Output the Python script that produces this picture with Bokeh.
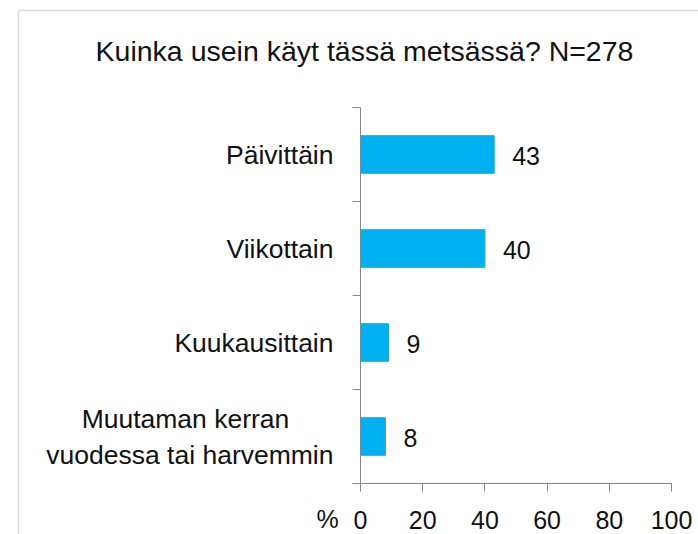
from bokeh.plotting import figure
from bokeh.models import (ColumnDataSource, Range1d, FixedTicker, LinearAxis,
                          LabelSet, Label, BoxAnnotation)
from bokeh.core.properties import value
from bokeh.embed import file_html
from bokeh.resources import INLINE

title_text = "Kuinka usein käyt tässä metsässä? N=278"
categories = ["Päivittäin", "Viikottain", "Kuukausittain",
              "Muutaman kerran\nvuodessa tai harvemmin"]
values = [43, 40, 9, 8]
x_ticks = [0, 20, 40, 60, 80, 100]
unit_label = "%"

FONT = "Liberation Sans"
BAR = "#00B0F0"
AXIS = "#868686"
TEXT = "#111111"

# canvas and plot-area geometry (pixels)
W, H = 698, 534
PL, PR, PT, PB = 360, 671, 107, 483
BORDER_X, BORDER_Y = 18, 10

n = len(categories)
ypos = [i + 0.5 for i in range(n)]
src = ColumnDataSource(dict(y=ypos, value=values, label=[str(v) for v in values]))

xmin, xmax = x_ticks[0], x_ticks[-1]
kx = (xmax - xmin) / (PR - PL)
ky = n / (PB - PT)
x_range = Range1d(xmin - PL * kx, xmax + (W - PR) * kx)
y_range = Range1d(n + (H - PB) * ky, 0 - PT * ky)

p = figure(width=W, height=H, output_backend="svg", toolbar_location=None,
           x_range=x_range, y_range=y_range, x_axis_location=None,
           y_axis_location=None, min_border=0)
p.outline_line_color = None
p.grid.visible = False

# x axis
xa = LinearAxis(ticker=FixedTicker(ticks=x_ticks), fixed_location=n,
                bounds=(xmin, xmax))
xa.major_tick_out = 8
xa.major_tick_in = 0
xa.minor_tick_line_color = None
xa.axis_line_color = AXIS
xa.major_tick_line_color = AXIS
xa.major_label_text_font = FONT
xa.major_label_text_font_size = "25px"
xa.major_label_text_color = TEXT
xa.major_label_standoff = 19
p.add_layout(xa, "below")

# y axis: category boundary ticks
ya = LinearAxis(ticker=FixedTicker(ticks=list(range(n + 1))), fixed_location=xmin,
                bounds=(0, n))
ya.major_tick_out = 8
ya.major_tick_in = 0
ya.minor_tick_line_color = None
ya.axis_line_color = AXIS
ya.major_tick_line_color = AXIS
ya.major_label_text_alpha = 0
ya.major_label_text_font_size = "1px"
p.add_layout(ya, "left")

# y axis: category labels (first line of two-line labels padded to look centred)
def centred(label):
    lines = label.split("\n")
    if len(lines) < 2:
        return label
    return lines[0] + "\u00a0" * 6 + "\n" + "\n".join(lines[1:])

yl = LinearAxis(ticker=FixedTicker(ticks=ypos), fixed_location=xmin, bounds=(0, n),
                major_label_overrides={y: centred(c) for y, c in zip(ypos, categories)})
yl.axis_line_color = None
yl.major_tick_line_color = None
yl.minor_tick_line_color = None
yl.major_tick_out = 0
yl.major_tick_in = 0
yl.major_label_standoff = 27
yl.major_label_text_font = FONT
yl.major_label_text_font_size = "26.5px"
yl.major_label_text_color = TEXT
p.add_layout(yl, "left")

p.hbar(y="y", left=0, right="value", height=0.4, source=src,
       fill_color=BAR, line_color=BAR)

p.add_layout(LabelSet(x="value", y="y", text="label", source=src, x_offset=18,
                      y_offset=-1, text_align="left", text_baseline="middle",
                      text_font=value(FONT), text_font_size=value("25px"),
                      text_color=TEXT))

p.add_layout(Label(x=xmin, y=n, text=unit_label, x_offset=-33, y_offset=-35,
                   text_align="center", text_baseline="alphabetic",
                   text_font=FONT, text_font_size="25px", text_color=TEXT))

p.add_layout(Label(x=364, y=50, x_units="canvas", y_units="canvas",
                   text=title_text, text_align="center", text_baseline="alphabetic",
                   text_font=FONT, text_font_size="28.5px", text_color=TEXT))

# chart-area border (continues beyond the right and bottom edges)
p.add_layout(BoxAnnotation(left=xmin - (PL - BORDER_X) * kx,
                           top=0 - (PT - BORDER_Y) * ky,
                           right=xmax + (W - PR + 20) * kx,
                           bottom=n + (H - PB + 20) * ky,
                           fill_color=None, line_color="#8a8a8a", line_width=1.6))

open("out.html", "w").write(file_html(p, INLINE))
